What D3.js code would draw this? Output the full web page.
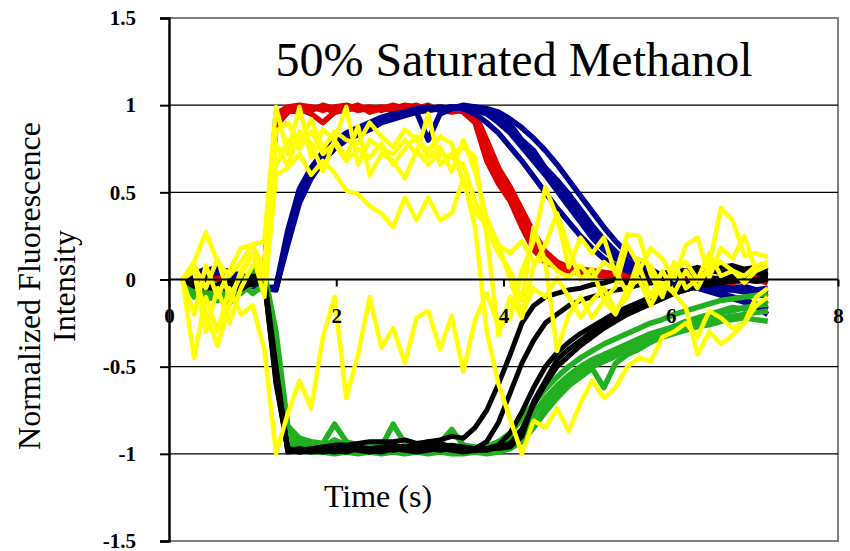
<!DOCTYPE html>
<html>
<head>
<meta charset="utf-8">
<script src="https://cdn.jsdelivr.net/npm/d3@7"></script>
</head>
<body style="margin:0">
<svg id="chart"></svg>
<script>
// time samples (s)
const time = [0.16,0.30,0.44,0.58,0.72,0.86,1.00,1.14,1.28,1.42,
  1.56,1.70,1.84,1.98,2.12,2.26,2.40,2.54,2.68,2.82,
  2.96,3.10,3.24,3.38,3.52,3.66,3.80,3.94,4.08,4.22,
  4.36,4.50,4.64,4.78,4.92,5.06,5.20,5.34,5.48,5.62,
  5.76,5.90,6.04,6.18,6.32,6.46,6.60,6.74,6.88,7.02,
  7.16];

// red traces
const red = [
  [0,0.01,0.02,0.00,-0.01,0.02,0.01,0.03,0.92,0.98,
   0.99,0.97,1.00,0.98,0.99,0.97,0.98,0.99,0.98,1.00,
   0.99,0.98,0.99,0.98,0.97,0.92,0.72,0.58,0.49,0.34,
   0.20,0.12,0.08,0.06,0.05,0.04,0.03,0.03,0.02,0.02,
   0.01,0.02,0.01,0.00,0.01,0.00,-0.01,0.00,0.01,-0.01,
   0.00],
  [0,-0.01,0.01,0.02,0.00,0.01,0.00,0.02,0.88,0.96,
   0.98,0.95,0.90,0.96,0.97,0.99,0.97,0.98,1.00,0.98,
   0.97,0.99,0.98,0.97,0.98,0.95,0.80,0.64,0.53,0.40,
   0.27,0.16,0.10,0.07,0.06,0.05,0.04,0.03,0.03,0.02,
   0.02,0.01,0.02,0.01,0.00,0.01,0.00,0.01,-0.01,0.00,
   -0.02],
  [0,0.00,0.01,0.01,0.02,0.00,0.01,0.04,0.95,0.99,
   1.00,0.99,0.97,0.99,1.00,0.98,0.99,0.97,0.99,0.98,
   1.00,0.97,0.98,0.99,0.96,0.90,0.68,0.55,0.45,0.30,
   0.17,0.10,0.07,0.05,0.04,0.03,0.02,0.02,0.01,0.01,
   0.00,0.01,0.00,-0.01,0.00,-0.01,0.00,-0.02,0.00,-0.01,
   0.01],
  [0,0.01,0.00,0.02,0.01,0.01,0.02,0.02,0.90,0.97,
   0.96,0.98,0.99,0.96,0.98,1.00,0.96,0.98,0.97,0.99,
   0.98,1.00,0.97,0.96,0.97,0.93,0.76,0.60,0.51,0.37,
   0.23,0.14,0.09,0.07,0.05,0.04,0.04,0.03,0.02,0.03,
   0.01,0.02,0.01,0.00,0.02,0.01,0.00,0.01,0.00,0.02,
   0.01]
];

// blue traces
const blue = [
  [0,0.01,0.03,0.05,0.02,0.00,-0.03,-0.05,-0.05,0.25,
   0.49,0.62,0.71,0.77,0.82,0.86,0.89,0.92,0.94,0.96,
   0.97,0.98,0.98,0.99,0.99,0.98,0.96,0.92,0.86,0.79,
   0.71,0.63,0.55,0.45,0.36,0.27,0.19,0.13,0.09,0.05,
   0.02,0.00,-0.02,-0.03,-0.04,-0.05,-0.06,-0.06,-0.07,-0.08,
   -0.10],
  [0,0.02,0.05,0.07,0.04,0.02,-0.02,-0.04,-0.05,0.22,
   0.46,0.60,0.70,0.76,0.81,0.84,0.88,0.91,0.93,0.95,
   0.96,0.80,0.95,0.98,1.00,0.99,0.98,0.96,0.92,0.87,
   0.81,0.74,0.66,0.57,0.48,0.39,0.30,0.22,0.15,0.10,
   0.06,0.02,-0.01,-0.03,-0.05,-0.07,-0.09,-0.11,-0.13,-0.16,
   -0.20],
  [0,0.00,0.02,0.04,0.03,0.01,-0.04,-0.06,-0.04,0.28,
   0.52,0.64,0.73,0.79,0.84,0.87,0.90,0.93,0.95,0.96,
   0.98,0.99,0.97,0.99,0.98,0.95,0.90,0.84,0.76,0.68,
   0.59,0.50,0.41,0.33,0.25,0.18,0.12,0.08,0.05,0.03,
   0.01,-0.01,-0.02,-0.04,-0.05,-0.04,-0.06,-0.05,-0.07,-0.06,
   -0.08],
  [0,0.03,0.06,0.04,0.05,0.01,-0.02,-0.05,-0.06,0.24,
   0.47,0.61,0.70,0.78,0.81,0.85,0.87,0.91,0.94,0.95,
   0.97,0.98,0.99,0.98,0.99,0.99,0.97,0.94,0.89,0.80,
   0.74,0.64,0.57,0.49,0.40,0.31,0.23,0.16,0.11,0.07,
   0.04,0.02,0.00,-0.02,-0.04,-0.06,-0.08,-0.10,-0.12,-0.14,
   -0.17],
  [0,0.01,0.04,0.06,0.03,0.03,-0.01,-0.05,-0.05,0.20,
   0.44,0.58,0.68,0.75,0.80,0.83,0.86,0.90,0.92,0.94,
   0.96,0.97,0.98,0.99,0.98,0.97,0.95,0.90,0.84,0.76,
   0.68,0.60,0.51,0.42,0.33,0.24,0.17,0.12,0.08,0.05,
   0.03,0.01,-0.01,-0.02,-0.03,-0.02,-0.04,-0.05,-0.04,-0.06,
   -0.05]
];

// green traces
const green = [
  [0,-0.08,-0.05,-0.10,-0.06,-0.02,-0.08,-0.03,-0.40,-0.88,
   -0.94,-0.95,-0.96,-0.92,-0.95,-0.97,-0.96,-0.97,-0.96,-0.97,
   -0.97,-0.93,-0.96,-0.97,-0.95,-0.97,-0.96,-0.95,-0.92,-0.86,
   -0.77,-0.68,-0.61,-0.55,-0.50,-0.46,-0.43,-0.40,-0.37,-0.34,
   -0.31,-0.29,-0.27,-0.25,-0.23,-0.21,-0.19,-0.18,-0.16,-0.15,
   -0.14],
  [0,-0.05,-0.12,-0.08,-0.14,-0.04,0.06,0.04,-0.30,-0.84,
   -0.91,-0.93,-0.94,-0.83,-0.93,-0.95,-0.94,-0.96,-0.83,-0.94,
   -0.96,-0.95,-0.94,-0.86,-0.95,-0.96,-0.97,-0.96,-0.94,-0.90,
   -0.82,-0.74,-0.66,-0.60,-0.55,-0.50,-0.47,-0.44,-0.40,-0.37,
   -0.34,-0.31,-0.29,-0.27,-0.25,-0.24,-0.22,-0.21,-0.20,-0.19,
   -0.18],
  [0,-0.10,-0.09,-0.12,-0.07,-0.06,-0.03,0.02,-0.50,-0.95,
   -0.98,-0.99,-0.99,-1.00,-0.99,-1.00,-0.99,-1.00,-0.99,-1.00,
   -0.99,-1.00,-0.99,-1.00,-1.00,-0.99,-1.00,-0.99,-0.97,-0.93,
   -0.85,-0.76,-0.68,-0.61,-0.56,-0.51,-0.62,-0.48,-0.43,-0.40,
   -0.36,-0.33,-0.31,-0.29,-0.27,-0.26,-0.24,-0.23,-0.22,-0.23,
   -0.24],
  [0,-0.06,-0.04,-0.07,-0.03,0.00,0.03,0.05,-0.35,-0.90,
   -0.96,-0.97,-0.98,-0.96,-0.97,-0.98,-0.97,-0.98,-0.97,-0.98,
   -0.98,-0.97,-0.98,-0.97,-0.98,-0.97,-0.96,-0.93,-0.88,-0.80,
   -0.71,-0.63,-0.56,-0.50,-0.45,-0.41,-0.37,-0.34,-0.31,-0.28,
   -0.25,-0.23,-0.20,-0.18,-0.16,-0.14,-0.12,-0.11,-0.10,-0.09,
   -0.08],
  [0,-0.09,-0.06,-0.11,-0.05,-0.08,-0.02,0.00,-0.45,-0.92,
   -0.97,-0.98,-0.97,-0.95,-0.98,-0.97,-0.98,-0.97,-0.98,-0.97,
   -0.98,-0.97,-0.98,-0.97,-0.99,-0.98,-0.97,-0.97,-0.95,-0.90,
   -0.83,-0.73,-0.64,-0.58,-0.52,-0.47,-0.44,-0.41,-0.38,-0.35,
   -0.33,-0.30,-0.27,-0.24,-0.22,-0.20,-0.18,-0.16,-0.17,-0.15,
   -0.12]
];

// black traces
const black = [
  [0,-0.02,-0.04,-0.03,0.00,-0.05,-0.02,-0.01,-0.60,-0.97,
   -0.98,-0.97,-0.96,-0.95,-0.95,-0.94,-0.93,-0.93,-0.93,-0.92,
   -0.94,-0.93,-0.92,-0.90,-0.91,-0.85,-0.75,-0.60,-0.43,-0.25,
   -0.15,-0.10,-0.08,-0.06,-0.05,-0.03,-0.02,0.00,-0.02,0.02,
   0.04,0.03,0.06,0.05,0.07,0.05,0.07,0.08,0.06,0.07,
   0.05],
  [0,-0.03,-0.05,-0.04,-0.06,-0.03,-0.01,0.00,-0.55,-0.98,
   -0.99,-0.98,-0.97,-0.98,-0.97,-0.96,-0.97,-0.96,-0.95,-0.96,
   -0.95,-0.94,-0.96,-0.95,-0.96,-0.97,-0.93,-0.82,-0.65,-0.48,
   -0.35,-0.25,-0.20,-0.15,-0.12,-0.10,-0.08,-0.06,-0.05,-0.03,
   -0.02,0.00,0.01,0.03,0.04,0.05,0.04,0.06,0.05,0.04,
   0.03],
  [0,-0.01,-0.04,-0.06,-0.02,-0.04,0.02,0.01,-0.50,-0.99,
   -0.98,-0.99,-0.98,-0.99,-0.98,-0.97,-0.98,-0.97,-0.98,-0.97,
   -0.98,-0.97,-0.98,-0.97,-0.98,-0.97,-0.97,-0.95,-0.88,-0.76,
   -0.62,-0.50,-0.42,-0.36,-0.31,-0.27,-0.23,-0.19,-0.16,-0.13,
   -0.10,-0.08,-0.05,-0.03,-0.02,0.00,0.01,0.02,0.03,0.04,
   0.02],
  [0,-0.02,-0.03,-0.05,-0.04,-0.02,-0.03,0.00,-0.58,-0.97,
   -0.99,-0.98,-0.99,-0.98,-0.97,-0.98,-0.99,-0.98,-0.97,-0.96,
   -0.97,-0.95,-0.94,-0.96,-0.97,-0.98,-0.98,-0.96,-0.94,-0.86,
   -0.72,-0.60,-0.50,-0.44,-0.38,-0.33,-0.28,-0.24,-0.20,-0.17,
   -0.14,-0.11,-0.08,-0.06,-0.04,-0.03,-0.01,0.00,0.01,0.00,
   0.01],
  [0,-0.04,-0.02,-0.05,-0.03,-0.06,-0.01,-0.02,-0.52,-0.98,
   -0.97,-0.98,-0.97,-0.98,-0.99,-0.97,-0.98,-0.99,-0.97,-0.98,
   -0.99,-0.98,-0.97,-0.98,-0.99,-0.98,-0.97,-0.97,-0.96,-0.90,
   -0.70,-0.58,-0.46,-0.40,-0.35,-0.30,-0.26,-0.22,-0.19,-0.16,
   -0.13,-0.10,-0.08,-0.06,-0.04,-0.02,-0.02,-0.01,0.00,-0.01,
   0.00]
];

// yellow traces
const yellow = [
  [0,0.10,0.27,0.10,0.02,0.10,0.20,0.22,0.99,0.72,
   0.99,0.70,0.86,0.80,0.99,0.66,0.80,0.75,0.72,0.80,
   0.72,0.95,0.66,0.72,0.76,0.70,0.25,-0.32,-0.10,-0.22,
   0.08,0.20,0.38,0.18,0.00,0.06,-0.12,-0.04,0.20,0.08,
   -0.10,0.05,-0.08,0.05,-0.05,0.08,0.41,0.34,0.14,0.15,
   0.13],
  [0,-0.20,0.08,-0.10,0.05,0.18,0.20,0.05,0.65,0.80,
   0.75,0.85,0.72,0.78,0.68,0.75,0.70,0.78,0.66,0.75,
   0.82,0.70,0.76,0.62,0.80,0.62,0.35,0.20,0.00,-0.20,
   -0.05,-0.10,0.01,-0.10,-0.22,-0.12,-0.05,-0.18,-0.10,0.05,
   0.18,0.12,0.00,0.20,0.24,0.01,0.18,0.12,0.25,0.05,
   0.08],
  [0,0.05,-0.20,-0.38,-0.15,0.05,0.15,0.00,0.78,0.65,
   0.85,0.78,0.62,0.80,0.70,0.88,0.60,0.72,0.68,0.58,
   0.74,0.66,0.72,0.70,0.66,0.45,0.28,0.15,0.05,-0.12,
   0.30,0.10,-0.41,-0.20,-0.10,-0.22,-0.12,-0.20,-0.05,0.00,
   -0.15,-0.02,-0.08,-0.16,-0.43,-0.30,-0.37,-0.32,-0.25,-0.15,
   -0.10],
  [0,0.05,-0.30,-0.05,-0.25,-0.05,0.08,0.10,0.85,0.90,
   0.78,0.92,0.75,0.85,0.80,0.78,0.90,0.82,0.76,0.86,
   0.80,0.74,0.82,0.78,0.55,0.38,0.32,0.20,0.15,0.22,
   0.10,0.12,0.05,0.01,0.08,0.00,0.10,0.05,-0.08,0.12,
   0.08,-0.05,0.05,0.10,0.00,0.05,0.10,0.05,0.02,0.08,
   0.10],
  [0,0.08,-0.05,0.12,-0.10,0.02,0.15,-0.10,0.60,0.64,
   0.72,0.60,0.68,0.61,0.51,0.49,0.42,0.38,0.30,0.47,
   0.34,0.47,0.34,0.38,0.58,0.30,-0.30,-0.60,-0.80,-1.00,
   -0.81,-0.85,-0.74,-0.87,-0.71,-0.58,-0.68,-0.62,-0.50,-0.45,
   -0.47,-0.33,-0.30,-0.25,-0.33,-0.18,-0.22,-0.28,-0.25,-0.10,
   -0.05],
  [0,-0.45,-0.10,-0.30,-0.05,-0.20,-0.15,-0.40,-1.00,-0.77,
   -0.58,-0.74,-0.33,-0.10,-0.68,-0.43,-0.10,-0.39,-0.28,-0.48,
   -0.22,-0.18,-0.40,-0.21,-0.53,-0.23,-0.08,-0.27,-0.22,0.05,
   0.22,0.53,0.36,0.07,0.24,0.15,0.24,0.03,0.26,0.25,
   0.03,-0.10,0.10,-0.05,0.00,0.15,0.02,0.05,-0.02,0.05,
   0.08]
];

const yTicks = [-1.5, -1, -0.5, 0, 0.5, 1, 1.5];
const xTicks = [0, 2, 4, 6, 8];
const gridValues = [-1, -0.5, 0.5, 1];

const FONT = "Liberation Serif";
const width = 850, height = 551;
const svg = d3.select("#chart").attr("width", width).attr("height", height);

const x = d3.scaleLinear().domain([0, 8]).range([169, 838]);
const y = d3.scaleLinear().domain([-1.5, 1.5]).range([541, 18]);

// gray frame (top, right, bottom)
svg.append("path")
   .attr("d", `M${x(0)},${y(1.5)}H${x(8)}V${y(-1.5)}H${x(0)}`)
   .attr("fill", "none")
   .attr("stroke", "#808080")
   .attr("stroke-width", 2);

// horizontal gridlines
svg.selectAll(".grid")
   .data(gridValues)
   .enter()
   .append("line")
   .attr("x1", x(0)).attr("x2", x(8))
   .attr("y1", d => y(d)).attr("y2", d => y(d))
   .attr("stroke", "#000")
   .attr("stroke-width", 1.2);

// data lines
const line = d3.line()
               .x((d, i) => x(time[i]))
               .y(d => y(d));

const groups = [
  { data: red, color: "#e00000", w: 5.5 },
  { data: blue, color: "#000090", w: 5.5 },
  { data: green, color: "#20b020", w: 5.5 },
  { data: black, color: "#000000", w: 5 },
  { data: yellow, color: "#ffff00", w: 4.5 }
];

groups.forEach(g => {
  svg.append("g")
     .selectAll("path")
     .data(g.data)
     .enter()
     .append("path")
     .attr("d", line)
     .attr("fill", "none")
     .attr("stroke", g.color)
     .attr("stroke-width", g.w)
     .attr("stroke-linejoin", "round");
});

// x axis along y = 0
const xAxis = svg.append("g")
   .attr("transform", `translate(0,${y(0)})`)
   .call(d3.axisBottom(x).tickValues(xTicks).tickSize(7).tickPadding(22).tickFormat(d => String(d)));
xAxis.select(".domain").remove();
xAxis.selectAll(".tick line").attr("stroke", "#000").attr("stroke-width", 2);
xAxis.selectAll("text")
     .style("font-family", FONT)
     .attr("font-size", 21).attr("font-weight", "bold").attr("fill", "#000");
svg.append("line")
   .attr("x1", x(0)).attr("x2", x(8))
   .attr("y1", y(0)).attr("y2", y(0))
   .attr("stroke", "#000").attr("stroke-width", 2);

// y axis
const yAxis = svg.append("g")
   .attr("transform", `translate(${x(0)},0)`)
   .call(d3.axisLeft(y).tickValues(yTicks).tickSize(9).tickPadding(24).tickFormat(d => String(d)));
yAxis.select(".domain").attr("stroke", "#000").attr("stroke-width", 2.5);
yAxis.selectAll(".tick line").attr("stroke", "#000").attr("stroke-width", 2);
yAxis.selectAll("text")
     .style("font-family", FONT)
     .attr("font-size", 21).attr("font-weight", "bold").attr("fill", "#000");

// title
svg.append("text")
   .style("font-family", FONT)
   .attr("x", 514).attr("y", 76)
   .attr("text-anchor", "middle")
   .attr("font-size", 48)
   .text("50% Saturated Methanol");

// x label
svg.append("text")
   .style("font-family", FONT)
   .attr("x", 378).attr("y", 507)
   .attr("text-anchor", "middle")
   .attr("font-size", 32)
   .text("Time (s)");

// y label (two lines, rotated)
const yl = svg.append("text")
   .style("font-family", FONT)
   .attr("transform", "translate(40,286) rotate(-90)")
   .attr("text-anchor", "middle")
   .attr("font-size", 32);
yl.append("tspan").attr("x", 0).attr("y", 0).text("Normalized Fluorescence");
yl.append("tspan").attr("x", 0).attr("y", 35).text("Intensity");
</script>
</body>
</html>
